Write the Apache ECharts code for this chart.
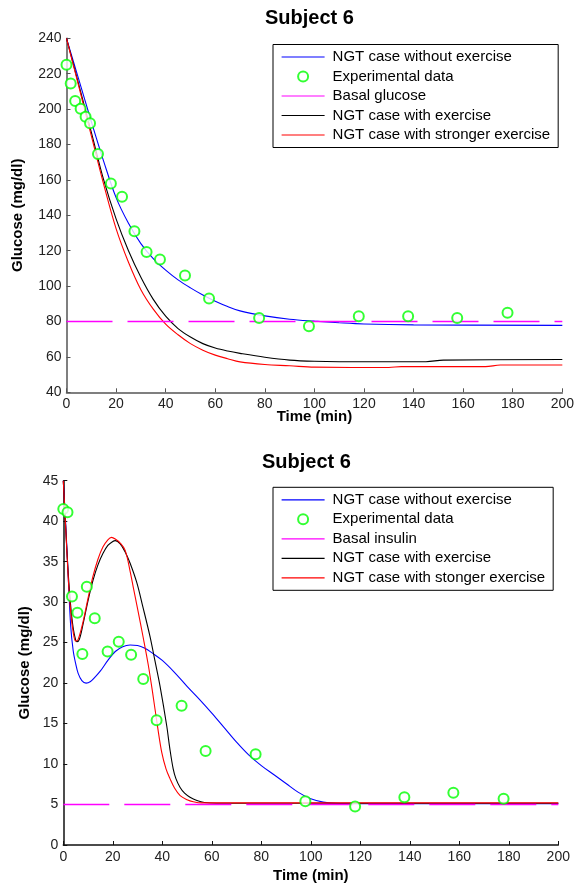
<!DOCTYPE html>
<html>
<head>
<meta charset="utf-8">
<script src="https://cdn.jsdelivr.net/npm/echarts@6/dist/echarts.min.js"></script>
<style>
  html, body { margin: 0; padding: 0; background: #fff; }
  #chart { width: 577px; height: 884px; }
</style>
</head>
<body>
<div id="chart"></div>
<script>
// Sampling times of the measured points (min)
const expTime = [0, 1.7, 3.5, 5.7, 7.7, 9.5, 12.7, 17.9, 22.4, 27.4, 32.3, 37.7, 47.8, 57.5, 77.7, 97.8, 117.9, 137.8, 157.6, 177.9];
// Measured glucose, upper panel
const expGlucose = [225, 214.4, 204.6, 200.2, 195.7, 192, 174.6, 158, 150.5, 131, 119.3, 115, 106, 93, 82, 77.3, 83, 83, 82, 85];
// Measured values, lower panel
const expInsulin = [41.5, 41.1, 30.7, 28.7, 23.6, 31.9, 28, 23.9, 25.1, 23.5, 20.5, 15.4, 17.2, 11.6, 11.2, 5.4, 4.75, 5.9, 6.45, 5.7];

// Upper panel model curves
const gNoExTime = [0, 5, 10, 15, 20, 25, 30, 35, 40, 45, 50, 55, 60, 65, 70, 80, 90, 100, 110, 120, 140, 200];
const gNoEx = [240, 216.5, 193, 170.5, 150, 135.5, 124, 115.5, 109, 103.5, 99, 95, 91.5, 88.5, 86, 83.2, 81.3, 80.2, 79.3, 78.6, 78.1, 77.8];
const gExTime = [0, 5, 10, 15, 20, 25, 30, 35, 40, 45, 50, 55, 60, 65, 70, 80, 90, 100, 110, 145, 152, 200];
const gEx = [240, 213.5, 187, 160, 138, 120, 105, 92.5, 83, 76, 71.2, 67.5, 65, 63.3, 62, 59.8, 58.2, 57.5, 57.3, 57.3, 58.2, 58.5];
const gStrongTime = [0, 5, 10, 15, 20, 25, 30, 35, 40, 45, 50, 55, 60, 65, 70, 80, 90, 100, 130, 135, 169, 175, 200];
const gStrong = [240, 212.5, 185, 157.5, 132.5, 113.5, 98, 87, 78.5, 72.5, 67.5, 63.8, 61, 59, 57.2, 55.7, 55, 54.2, 54, 54.5, 54.5, 55.4, 55.4];
const basalGlucose = 80;

// Lower panel model curves
const iNoExTime = [0, 1, 2, 3, 4, 5, 6, 7.5, 9.2, 11, 13, 15, 18, 21, 24, 27, 30, 33, 36, 40, 45, 50, 55, 60, 65, 70, 75, 80, 85, 90, 95, 100, 105, 110, 120, 200];
const iNoEx = [45, 39.5, 33, 27, 24, 22.4, 21.2, 20.3, 20, 20.2, 20.8, 21.5, 22.8, 23.9, 24.5, 24.7, 24.65, 24.3, 23.7, 22.8, 21.3, 19.6, 18, 16.3, 14.5, 12.7, 11.1, 9.8, 8.7, 7.6, 6.5, 5.7, 5.3, 5.15, 5.1, 5.1];
const iExTime = [0, 1, 2, 3, 4, 5, 5.5, 6.5, 8, 10, 12, 14, 16, 18, 20, 21, 23, 25, 27, 29.7, 32, 35, 37, 39.1, 41.8, 43, 44.4, 45.5, 47.2, 49, 51.2, 54, 57, 62, 200];
const iEx = [45, 39, 33.5, 29.5, 26.8, 25.3, 25.1, 25.4, 27.3, 30.2, 32.7, 34.6, 36, 37, 37.5, 37.6, 37.2, 36.2, 34.8, 32.4, 29.6, 25.8, 22.8, 19.6, 14.7, 12, 9.4, 8.2, 7.1, 6.4, 5.9, 5.5, 5.25, 5.15, 5.15];
const iStrongTime = [0, 1, 2, 3, 4, 5, 6, 8, 10, 12, 14, 16, 18, 19.5, 21, 23, 25, 27, 28.3, 30, 32.3, 34.3, 36.1, 38, 39.8, 41.5, 43.1, 45, 47.2, 50, 52.5, 56, 200];
const iStrong = [45, 39, 33, 28.8, 26.3, 25.2, 25.4, 27.6, 30.5, 33.2, 35.3, 36.8, 37.7, 38, 37.8, 37.3, 36.4, 33.8, 31.8, 29.2, 25.6, 22.3, 18.8, 14.8, 11.4, 9.4, 8.2, 7, 6.1, 5.6, 5.35, 5.2, 5.2];
const basalInsulin = 5;

const xTicks = { min: 0, max: 200, interval: 20 };
const yTopTicks = { min: 40, max: 240, interval: 20 };
const yBottomTicks = { min: 0, max: 45, interval: 5 };

const FONT = 'Liberation Sans';
const GREEN = '#00ff00';
const MAGENTA = '#ff00ff';
const zip = (xs, ys) => xs.map((x, i) => [x, ys[i]]);

function lineSeries(name, xs, ys, color, axisIndex) {
  return {
    name, type: 'line', xAxisIndex: axisIndex, yAxisIndex: axisIndex,
    data: zip(xs, ys), symbol: 'none', smooth: 0.35,
    lineStyle: { color, width: 1.1 }, itemStyle: { color }, z: 3
  };
}
function basalSeries(name, level, axisIndex) {
  return {
    name, type: 'line', xAxisIndex: axisIndex, yAxisIndex: axisIndex,
    data: [[xTicks.min, level], [xTicks.max, level]], symbol: 'none',
    color: MAGENTA,
    lineStyle: { color: MAGENTA, width: 1.4, type: [46, 15], opacity: 1 },
    itemStyle: { color: MAGENTA }, z: 5
  };
}
function expSeries(name, ys, axisIndex) {
  return {
    name, type: 'scatter', xAxisIndex: axisIndex, yAxisIndex: axisIndex,
    data: zip(expTime, ys), symbol: 'emptyCircle', symbolSize: 10,
    itemStyle: { color: GREEN, borderColor: GREEN, borderWidth: 1.2 }, z: 6
  };
}

function xAxisFor(gridIndex, gap, axisColor) {
  return {
    type: 'value', gridIndex, ...xTicks,
    name: 'Time (min)', nameLocation: 'middle', nameGap: gap, nameMoveOverlap: false,
    nameTextStyle: { fontFamily: FONT, fontSize: 15, fontWeight: 'bold', color: '#000' },
    axisLine: { show: true, onZero: false, lineStyle: { color: axisColor, width: 1.5 } },
    axisTick: { show: true, inside: true, length: 4, lineStyle: { color: axisColor } },
    axisLabel: { fontFamily: FONT, fontSize: 14, color: '#222', margin: 5 },
    splitLine: { show: false }
  };
}
function yAxisFor(gridIndex, ticks, gap, axisColor) {
  return {
    type: 'value', gridIndex, ...ticks,
    name: 'Glucose (mg/dl)', nameLocation: 'middle', nameGap: gap, nameRotate: 90, nameMoveOverlap: false,
    nameTextStyle: { fontFamily: FONT, fontSize: 15, fontWeight: 'bold', color: '#000' },
    axisLine: { show: true, onZero: false, lineStyle: { color: axisColor, width: 1.5 } },
    axisTick: { show: true, inside: true, length: 4, lineStyle: { color: axisColor } },
    axisLabel: { fontFamily: FONT, fontSize: 14, color: '#222', margin: 5 },
    splitLine: { show: false }
  };
}
function legendFor(top, names) {
  return {
    orient: 'vertical', left: 273, top,
    padding: [5, 8, 5, 8],
    itemWidth: 43, itemHeight: 10, itemGap: 4.5,
    borderColor: '#000', borderWidth: 1, backgroundColor: '#fff',
    textStyle: { fontFamily: FONT, fontSize: 15, color: '#000', padding: [0, 0, 0, 3] },
    data: names.map((n, i) => i === 1
      ? { name: n }
      : { name: n, lineStyle: { type: 'solid', width: 1.2 }, itemStyle: { opacity: 0 } }),
    selectedMode: false
  };
}

const topNames = ['NGT case without exercise', 'Experimental data', 'Basal glucose', 'NGT case with exercise', 'NGT case with stronger exercise'];
const botNames = ['NGT case without exercise ', 'Experimental data ', 'Basal insulin', 'NGT case with exercise ', 'NGT case with stonger exercise'];

const option = {
  backgroundColor: '#fff',
  animation: false,
  title: [
    { text: 'Subject 6', left: 265, top: 8, padding: 0, textStyle: { fontFamily: FONT, fontSize: 20, fontWeight: 'bold', color: '#000' } },
    { text: 'Subject 6', left: 262, top: 452, padding: 0, textStyle: { fontFamily: FONT, fontSize: 20, fontWeight: 'bold', color: '#000' } }
  ],
  grid: [
    { left: 66.5, right: 14, top: 38.3, height: 354 },
    { left: 63.3, right: 18.7, top: 480.7, height: 365.6 }
  ],
  xAxis: [xAxisFor(0, 17, '#555'), xAxisFor(1, 23, '#111')],
  yAxis: [yAxisFor(0, yTopTicks, 41, '#555'), yAxisFor(1, yBottomTicks, 31, '#111')],
  legend: [legendFor(44.5, topNames), legendFor(487.3, botNames)],
  series: [
    lineSeries(topNames[0], gNoExTime, gNoEx, '#0000ff', 0),
    expSeries(topNames[1], expGlucose, 0),
    basalSeries(topNames[2], basalGlucose, 0),
    lineSeries(topNames[3], gExTime, gEx, '#000000', 0),
    lineSeries(topNames[4], gStrongTime, gStrong, '#ff0000', 0),

    lineSeries(botNames[0], iNoExTime, iNoEx, '#0000ff', 1),
    expSeries(botNames[1], expInsulin, 1),
    basalSeries(botNames[2], basalInsulin, 1),
    lineSeries(botNames[3], iExTime, iEx, '#000000', 1),
    lineSeries(botNames[4], iStrongTime, iStrong, '#ff0000', 1)
  ]
};

echarts.init(document.getElementById('chart'), null, { renderer: 'canvas' }).setOption(option);
</script>
</body>
</html>
